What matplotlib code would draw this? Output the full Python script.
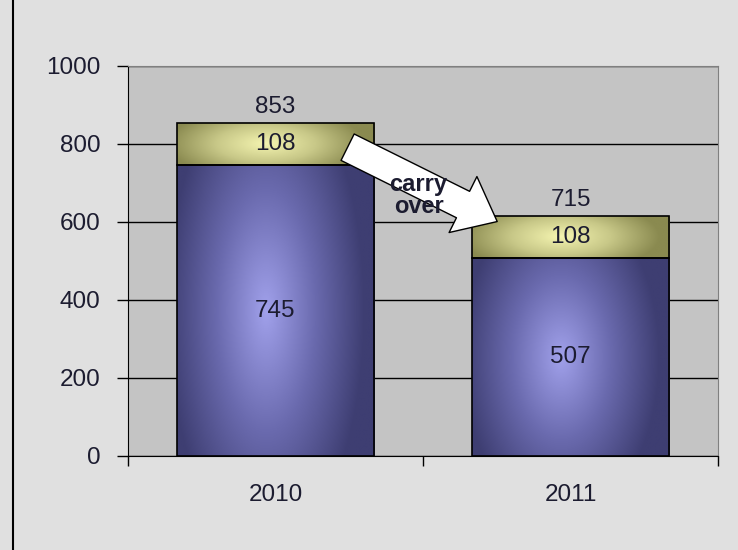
import numpy as np
import matplotlib
matplotlib.use('Agg')
from matplotlib import pyplot as plt
from matplotlib.colors import LinearSegmentedColormap
from matplotlib.patches import FancyArrowPatch
from matplotlib.lines import Line2D

years = ['2010', '2011']
base = [745, 507]
carry = [108, 108]
totals = [853, 715]
yticks = [0, 200, 400, 600, 800, 1000]

plt.rcParams['font.family'] = ['Liberation Sans', 'DejaVu Sans']
txt = '#1c1c30'
fs = 17.5

fig = plt.figure(figsize=(7.38, 5.5), dpi=100, facecolor='#e0e0e0')
ax = fig.add_axes([128/738, 1-456/550, 590/738, 390/550])
ax.set_facecolor('#c4c4c4')

x = np.arange(len(years))
b1 = ax.bar(x, base, width=0.67, facecolor='none', edgecolor='black', lw=1.2, zorder=3)
b2 = ax.bar(x, carry, bottom=base, width=0.67, facecolor='none', edgecolor='black', lw=1.2, zorder=3)

purple = LinearSegmentedColormap.from_list('p', ['#3e3e72', '#6a6aae', '#a0a0ea'])
yellow = LinearSegmentedColormap.from_list('y', ['#8a8a50', '#c8c888', '#f4f4b0'])

# soft gradient fill, lighter toward the middle
gx, gy = np.meshgrid(np.linspace(-1, 1, 200), np.linspace(-1, 1, 200))
grad = 1 - np.clip(np.sqrt((gx + 0.1)**2 + (0.6*gy)**2), 0, 1)
for bars, cm in ((b1, purple), (b2, yellow)):
    for p in bars:
        x0, y0 = p.get_x(), p.get_y()
        w, h = p.get_width(), p.get_height()
        im = ax.imshow(grad, extent=[x0, x0+w, y0, y0+h], cmap=cm, aspect='auto',
                       origin='lower', zorder=2.5)
        im.set_clip_path(p)

for i in range(len(years)):
    ax.text(x[i], base[i]/2, str(base[i]), ha='center', va='center', fontsize=fs, color=txt, zorder=5)
    ax.text(x[i], base[i] + carry[i]/2, str(carry[i]), ha='center', va='center', fontsize=fs, color=txt, zorder=5)
    ax.text(x[i], base[i] + carry[i] + 42, str(totals[i]), ha='center', va='center', fontsize=fs, color=txt, zorder=5)

# carry over arrow
arr = FancyArrowPatch((0.236, 795), (0.76, 598),
                      arrowstyle='simple,head_length=1.1,head_width=1.8,tail_width=0.85',
                      mutation_scale=25, fc='white', ec='black', lw=1, zorder=6)
ax.add_patch(arr)
ax.text(0.485, 668, 'carry\nover', ha='center', va='center', fontsize=17, color=txt,
        fontweight='bold', linespacing=0.9, zorder=7)

ax.set_xlim(-0.5, 1.5)
ax.set_ylim(0, 1000)
ax.set_yticks(yticks)
ax.tick_params(axis='y', length=8, width=1, pad=12, labelsize=fs, labelcolor=txt)
ax.set_xticks(x)
ax.set_xticklabels(years)
ax.set_xticks([-0.5, 0.5, 1.5], minor=True)
ax.tick_params(axis='x', which='major', length=0, pad=20, labelsize=fs, labelcolor=txt)
ax.tick_params(axis='x', which='minor', length=7, width=1)
ax.yaxis.grid(True, color='black', lw=1)
ax.set_axisbelow(True)
for s in ('top', 'right'):
    ax.spines[s].set_color('#808080')
for s in ('left', 'bottom'):
    ax.spines[s].set_color('black')

fig.add_artist(Line2D([13/738, 13/738], [0, 1], color='black', lw=1.5))

plt.savefig('out.png', dpi=100, facecolor=fig.get_facecolor())
